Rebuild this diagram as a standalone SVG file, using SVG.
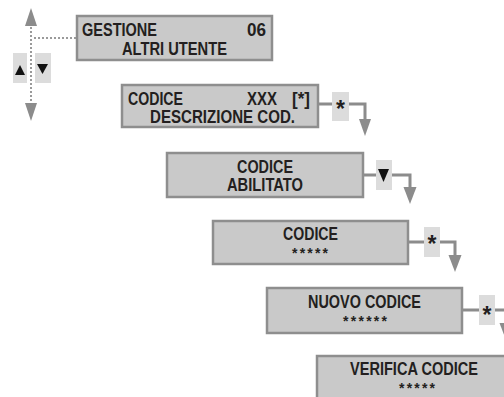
<svg xmlns="http://www.w3.org/2000/svg" width="504" height="397" viewBox="0 0 504 397">
  <style>
    .lcd { fill: #c9c9c9; stroke: #8e8e8e; stroke-width: 2.5; }
    .key { fill: #dcdcdc; stroke: none; }
    .t { font-family: "Liberation Sans", Arial, sans-serif; font-weight: bold; font-size: 18.5px; fill: #231f20; }
    .pin { font-family: "Liberation Sans", Arial, sans-serif; font-weight: bold; font-size: 14px; fill: #231f20; }
    .ast { font-family: "Liberation Sans", Arial, sans-serif; font-weight: bold; font-size: 23px; fill: #231f20; text-anchor: middle; }
    .wire { fill: none; stroke: #8c8c8c; stroke-width: 3; }
    .dots { fill: none; stroke: #9a9a9a; stroke-width: 2; stroke-dasharray: 2 2; }
    .head { fill: #8c8c8c; }
    .tri { fill: #111; }
  </style>

  <!-- scroll control: up/down keys on a dotted axis -->
  <g id="scroll">
    <path class="dots" d="M31 27 V103"/>
    <path class="dots" d="M34 38 H76"/>
    <polygon class="head" points="31,8 25,26 37,26"/>
    <polygon class="head" points="25,103 37,103 31,121"/>
    <rect class="key" x="13" y="53" width="14" height="30"/>
    <rect class="key" x="35" y="53" width="16" height="30"/>
    <polygon class="tri" points="20,65 15,75 25,75"/>
    <polygon class="tri" points="37,64 48,64 42.5,74"/>
  </g>

  <g id="connectors">
    <!-- CODICE XXX -> CODICE ABILITATO -->
    <path class="wire" d="M318 104 H365 V120"/>
    <rect class="key" x="332" y="92" width="17" height="29"/>
    <text class="ast" x="340.5" y="117">*</text>
    <polygon class="head" points="359,119 371,119 365,136"/>

    <!-- CODICE ABILITATO -> CODICE -->
    <path class="wire" d="M363 175 H410 V188"/>
    <rect class="key" x="376" y="160" width="16" height="30"/>
    <polygon class="tri" points="378,169 389,169 383.5,182"/>
    <polygon class="head" points="403.5,187 416.5,187 410,204"/>

    <!-- CODICE -> NUOVO CODICE -->
    <path class="wire" d="M408 242 H455 V256"/>
    <rect class="key" x="424" y="227" width="16" height="30"/>
    <text class="ast" x="432" y="252">*</text>
    <polygon class="head" points="448.5,255 461.5,255 455,272"/>

    <!-- NUOVO CODICE -> VERIFICA CODICE -->
    <path class="wire" d="M462 310 H506 V324"/>
    <rect class="key" x="479" y="295" width="16" height="30"/>
    <text class="ast" x="487" y="323">*</text>
    <polygon class="head" points="499.5,323 512.5,323 506,340"/>
  </g>

  <g id="gestione">
    <rect class="lcd" x="77" y="16" width="195" height="44"/>
    <text class="t" x="82" y="36" textLength="75" lengthAdjust="spacingAndGlyphs">GESTIONE</text>
    <text class="t" x="247" y="36" textLength="19" lengthAdjust="spacingAndGlyphs">06</text>
    <text class="t" x="122" y="55" textLength="105" lengthAdjust="spacingAndGlyphs">ALTRI UTENTE</text>
  </g>

  <g id="codice-descr">
    <rect class="lcd" x="122" y="85" width="196" height="42"/>
    <text class="t" x="128" y="105" textLength="55" lengthAdjust="spacingAndGlyphs">CODICE</text>
    <text class="t" x="247" y="105" textLength="30" lengthAdjust="spacingAndGlyphs">XXX</text>
    <text class="t" x="292" y="105" textLength="18" lengthAdjust="spacingAndGlyphs">[*]</text>
    <text class="t" x="150" y="123" textLength="145" lengthAdjust="spacingAndGlyphs">DESCRIZIONE COD.</text>
  </g>

  <g id="codice-abilitato">
    <rect class="lcd" x="167" y="153" width="196" height="44"/>
    <text class="t" x="237" y="173" textLength="56" lengthAdjust="spacingAndGlyphs">CODICE</text>
    <text class="t" x="227" y="191" textLength="76" lengthAdjust="spacingAndGlyphs">ABILITATO</text>
  </g>

  <g id="codice">
    <rect class="lcd" x="213" y="221" width="195" height="43"/>
    <text class="t" x="283" y="240" textLength="55" lengthAdjust="spacingAndGlyphs">CODICE</text>
    <text class="pin" x="292" y="258" textLength="36" lengthAdjust="spacing">*****</text>
  </g>

  <g id="nuovo-codice">
    <rect class="lcd" x="267" y="288" width="195" height="45"/>
    <text class="t" x="308" y="308" textLength="113" lengthAdjust="spacingAndGlyphs">NUOVO CODICE</text>
    <text class="pin" x="343" y="326" textLength="44" lengthAdjust="spacing">******</text>
  </g>

  <g id="verifica-codice">
    <rect class="lcd" x="317" y="356" width="195" height="46"/>
    <text class="t" x="350" y="375" textLength="128" lengthAdjust="spacingAndGlyphs">VERIFICA CODICE</text>
    <text class="pin" x="399" y="393" textLength="36" lengthAdjust="spacing">*****</text>
  </g>
</svg>
